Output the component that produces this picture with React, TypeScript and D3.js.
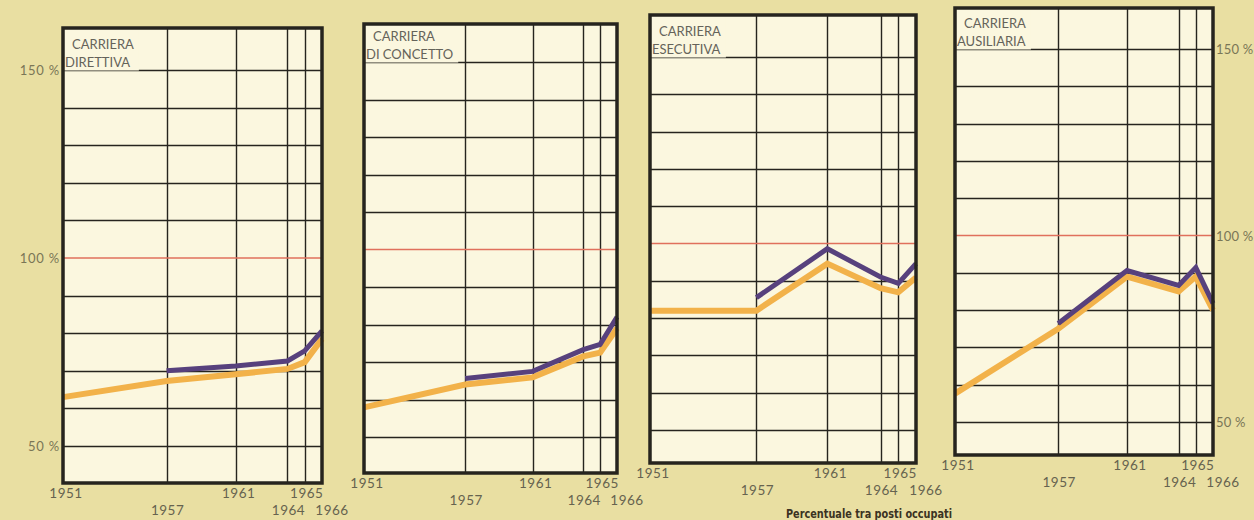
import { useEffect, useRef } from 'react';
import * as d3 from 'd3';

const YEARS = [1951, 1957, 1961, 1964, 1965, 1966];
const PURPLE_YEARS = [1957, 1961, 1964, 1965, 1966];
const TITLES = [
  ['CARRIERA', 'DIRETTIVA'],
  ['CARRIERA', 'DI CONCETTO'],
  ['CARRIERA', 'ESECUTIVA'],
  ['CARRIERA', 'AUSILIARIA'],
];
// orange series, one value per year in YEARS
const ORANGE = [
  [63, 67.3, 69.1, 70.5, 72.3, 78.5],
  [57.9, 64, 65.9, 71.5, 72.5, 79],
  [82, 82, 94.6, 88, 86.9, 90.9],
  [57.6, 75, 89, 85, 89, 80],
];
// purple series, one value per year in PURPLE_YEARS
const PURPLE = [
  [70, 71.3, 72.6, 75.3, 80.6],
  [65.6, 67.5, 73.3, 74.7, 82],
  [85.5, 98.6, 91, 89.3, 94.6],
  [76.4, 90.6, 86.6, 91.4, 81.8],
];
const GRID_VALUES = [50, 60, 70, 80, 90, 100, 110, 120, 130, 140, 150];
const PCT_LABELS = [150, 100, 50];
const FOOTNOTE = 'Percentuale tra posti occupati';

// where each panel sits on the page
const FRAMES = [
  { x0: 63, x1: 322, top: 28, bottom: 483, y50: 446, y150: 70 },
  { x0: 364, x1: 617, top: 24, bottom: 473, y50: 437, y150: 62 },
  { x0: 650, x1: 916, top: 15, bottom: 463, y50: 430, y150: 57 },
  { x0: 955, x1: 1213, top: 8, bottom: 455, y50: 422, y150: 49 },
];
const LABEL_ROW: Record<number, number> = { 1951: 0, 1957: 1, 1961: 0, 1964: 1, 1965: 0, 1966: 1 };
const LABEL_SHIFT: Record<number, number> = { 1951: 3, 1957: 1, 1961: 3, 1964: 1, 1965: 2, 1966: 10 };

const BG = '#e9dfa2';
const PANEL = '#fbf7df';
const INK = '#26241e';
const ORANGE_C = '#f2b24a';
const PURPLE_C = '#57417d';
const RED = '#e0705c';
const FONT = 'Lato, "Open Sans", sans-serif';

export default function App() {
  const ref = useRef<SVGSVGElement>(null);

  useEffect(() => {
    const svg = d3.select(ref.current);
    svg.selectAll('*').remove();
    svg.append('rect').attr('width', 1254).attr('height', 520).attr('fill', BG);

    FRAMES.forEach((f, i) => {
      const g = svg.append('g');
      const x = d3.scaleLinear().domain([1951, 1966]).range([f.x0, f.x1]);
      const y = d3.scaleLinear().domain([50, 150]).range([f.y50, f.y150]);

      g.append('rect')
        .attr('x', f.x0).attr('y', f.top)
        .attr('width', f.x1 - f.x0).attr('height', f.bottom - f.top)
        .attr('fill', PANEL);

      // horizontal grid
      g.selectAll('.h')
        .data(GRID_VALUES.filter((v) => v !== 100))
        .enter().append('line')
        .attr('x1', f.x0).attr('x2', f.x1)
        .attr('y1', (d) => Math.round(y(d)) + 0.5).attr('y2', (d) => Math.round(y(d)) + 0.5)
        .attr('stroke', INK).attr('stroke-width', 1.4);

      // vertical grid
      g.selectAll('.v')
        .data(YEARS.slice(1, -1))
        .enter().append('line')
        .attr('x1', (d) => Math.round(x(d)) + 0.5).attr('x2', (d) => Math.round(x(d)) + 0.5)
        .attr('y1', f.top).attr('y2', f.bottom)
        .attr('stroke', INK).attr('stroke-width', 1.4);

      // title with masking box
      const t1 = g.append('text')
        .attr('x', f.x0 + 9).attr('y', y(150) - 21)
        .attr('font-family', FONT).attr('font-size', 13).attr('fill', '#65635a')
        .text(TITLES[i][0]);
      const t2 = g.append('text')
        .attr('x', f.x0 + 2).attr('y', y(150) - 3)
        .attr('font-family', FONT).attr('font-size', 13).attr('fill', '#65635a')
        .text(TITLES[i][1]);
      const w = Math.max(
        (t1.node() as SVGTextElement).getComputedTextLength() + 9,
        (t2.node() as SVGTextElement).getComputedTextLength() + 2,
      );
      g.insert('rect', 'text')
        .attr('x', f.x0 + 1).attr('y', f.top + 1)
        .attr('width', w + 4).attr('height', Math.round(y(150)) - f.top - 0.5)
        .attr('fill', PANEL);

      // 100% reference
      g.append('line')
        .attr('x1', f.x0).attr('x2', f.x1)
        .attr('y1', y(100)).attr('y2', y(100))
        .attr('stroke', RED).attr('stroke-width', 1.6);

      const line = d3.line<[number, number]>().x((d) => x(d[0])).y((d) => y(d[1]));
      g.append('path')
        .attr('d', line(YEARS.map((yr, k) => [yr, ORANGE[i][k]]) as [number, number][]))
        .attr('fill', 'none').attr('stroke', ORANGE_C).attr('stroke-width', 6);
      g.append('path')
        .attr('d', line(PURPLE_YEARS.map((yr, k) => [yr, PURPLE[i][k]]) as [number, number][]))
        .attr('fill', 'none').attr('stroke', PURPLE_C).attr('stroke-width', 5);

      // frame
      g.append('rect')
        .attr('x', f.x0).attr('y', f.top)
        .attr('width', f.x1 - f.x0).attr('height', f.bottom - f.top)
        .attr('fill', 'none').attr('stroke', INK).attr('stroke-width', 3.5);

      // year labels
      g.selectAll('.yr')
        .data(YEARS)
        .enter().append('text')
        .attr('x', (d) => x(d) + LABEL_SHIFT[d])
        .attr('y', (d) => f.bottom + 15 + LABEL_ROW[d] * 17)
        .attr('text-anchor', 'middle')
        .attr('font-family', FONT).attr('font-size', 13.5).attr('fill', '#66634f')
        .attr('letter-spacing', 0.5)
        .text((d) => String(d));

      // percentage labels
      if (i === 0 || i === FRAMES.length - 1) {
        const left = i === 0;
        g.selectAll('.pct')
          .data(PCT_LABELS)
          .enter().append('text')
          .attr('x', left ? f.x0 - 3 : f.x1 + 3)
          .attr('y', (d) => y(d) + 5)
          .attr('text-anchor', left ? 'end' : 'start')
          .attr('font-family', FONT).attr('font-size', 13).attr('fill', '#7a7656')
          .attr('letter-spacing', left ? 0.8 : 0.2)
          .text((d) => `${d} %`);
      }
    });

    svg.append('text')
      .attr('x', 786).attr('y', 518)
      .attr('font-family', '"DejaVu Sans Condensed", "DejaVu Sans", sans-serif')
      .attr('font-weight', 'bold').attr('font-size', 11.5).attr('fill', '#3b3322')
      .attr('textLength', 166).attr('lengthAdjust', 'spacingAndGlyphs')
      .text(FOOTNOTE);
  }, []);

  return (
    <div style={{ position: 'fixed', left: 0, top: 0 }}>
      <svg ref={ref} width={1254} height={520} style={{ display: 'block' }} />
    </div>
  );
}
